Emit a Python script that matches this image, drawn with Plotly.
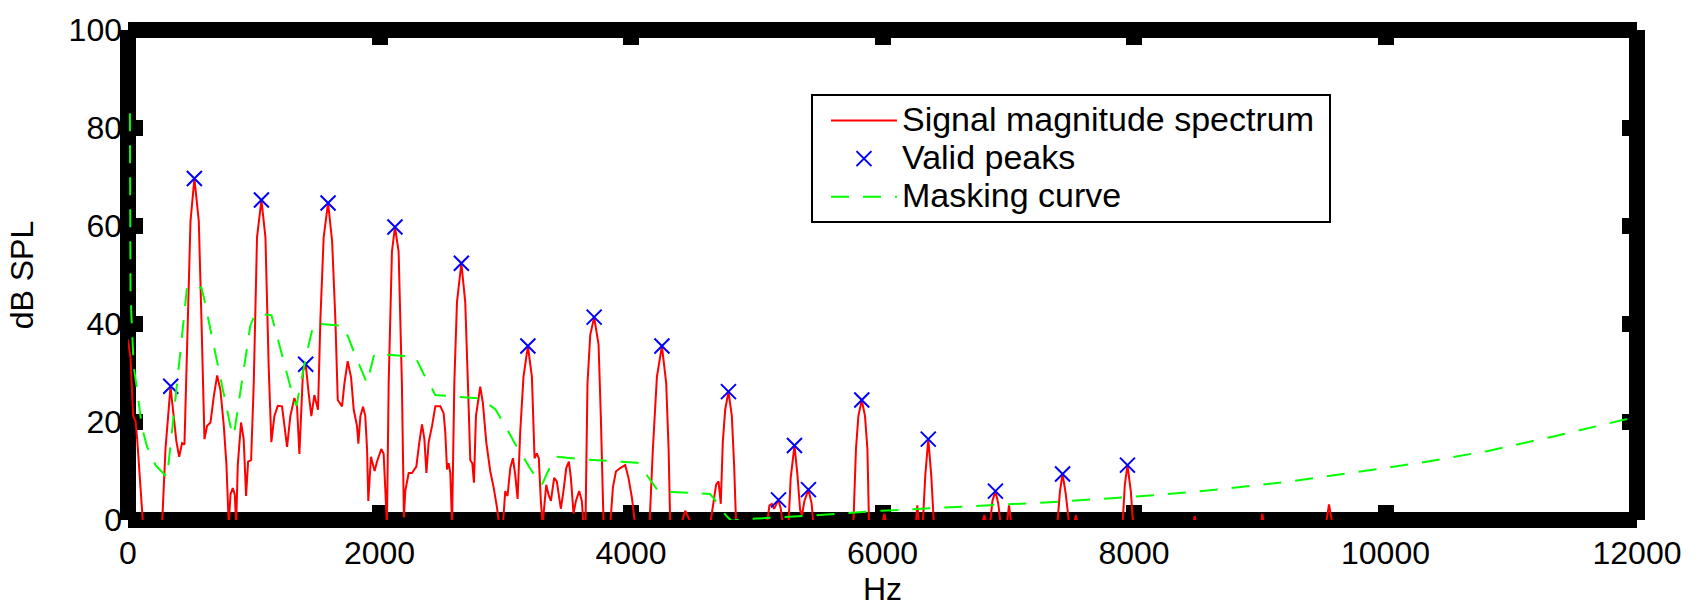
import plotly.graph_objects as go

# ---------------- data ----------------
spec_f = [0, 20, 41, 60, 73, 99, 120,
          271, 298, 338, 364, 385, 407, 430, 449, 470, 497, 528, 563, 584, 608, 629, 656, 682, 709, 735, 762,
          783, 801, 815, 833, 849, 860, 873, 899, 920, 939, 955, 979, 1000, 1026, 1061, 1093, 1119, 1140,
          1164, 1191, 1225, 1244, 1265, 1291, 1323, 1344, 1363, 1392, 1413, 1437, 1458, 1482, 1511, 1530,
          1556, 1591, 1623, 1649, 1668, 1702, 1721, 1747, 1774, 1795, 1821, 1832, 1848, 1869, 1887, 1901,
          1911, 1932, 1961, 1980, 2014, 2033, 2051, 2059, 2073, 2099, 2123, 2152, 2178, 2194, 2205, 2232,
          2258, 2293, 2317, 2338, 2357, 2373, 2391, 2418, 2444, 2471,
          2484, 2510, 2523, 2537, 2550, 2563, 2577, 2595, 2616, 2651, 2682, 2703, 2722, 2738, 2751, 2767,
          2801, 2822, 2849, 2881, 2908, 2934, 2952, 2981, 3000, 3018, 3040, 3061, 3079, 3098, 3119, 3145,
          3180, 3212, 3233, 3251, 3267, 3283, 3297, 3326, 3344, 3363, 3389, 3410, 3442, 3463, 3485, 3506,
          3522, 3543, 3562, 3588, 3609, 3622, 3638, 3654, 3676, 3707, 3742, 3760, 3782, 3835, 3856, 3880,
          3914, 3954, 3980, 4007, 4033, 4147, 4174, 4206, 4246, 4280, 4299, 4312, 4397, 4431, 4484, 4629,
          4656, 4677, 4696, 4714, 4730, 4749, 4775, 4802, 4820, 4836,
          5080, 5101, 5120, 5138, 5173, 5191, 5207, 5252, 5270, 5300, 5323, 5345, 5360, 5379, 5411, 5437,
          5450, 5768, 5789, 5808, 5835, 5861, 5880, 5893, 5999, 6015, 6030, 6264, 6277, 6291, 6320, 6340,
          6364, 6388, 6409, 6789, 6810, 6829, 6855, 6874, 6898, 6921, 6940, 6988, 7006, 7025,
          7390, 7411, 7432, 7458, 7485, 7522, 7538, 7554, 7909, 7927, 7948, 7975, 7993, 8470, 8483, 8496,
          9008, 9021, 9034, 9525, 9551, 9578, 12000]
spec_db = [36.8, 33.1, 21.2, 20.2, 16.5, 7.9, -1,
           -1, 14.5, 27.2, 21.2, 16.0, 12.9, 15.7, 15.4, 37.8, 61.0, 69.7, 61.0, 41.0, 16.5, 19.2, 19.9, 25.2, 29.5, 26.5, 19.2,
           11.2, -1, 5.2, 6.5, 5.2, -1, 11.2, 19.9, 16.5, 4.9, 11.9, 12.2, 27.9, 57.7, 65.3, 57.7, 31.1, 15.9,
           21.2, 23.3, 23.2, 19.2, 14.9, 21.2, 24.9, 23.2, 13.5, 30.5, 31.8, 25.8, 21.2, 25.5, 22.5, 41.0,
           57.7, 64.7, 57.0, 41.0, 24.5, 23.2, 27.9, 32.4, 29.1, 22.5, 19.2, 15.6, 21.2, 23.1, 21.2, 14.5,
           3.9, 12.9, 10.0, 11.9, 14.5, 13.5, 1.3, -1, 27.9, 54.8, 59.8, 54.8, 28.0, 0.5, 5.9, 9.6,
           9.6, 10.9, 15.9, 19.5, 16.5, 9.6, 15.9, 19.2, 23.2, 23.2,
           23.2, 21.8, 17.9, 10.3, 11.6, 9.6, -1, 27.9, 44.4, 52.4, 44.4, 27.9, 12.2, 11.6, 7.6, 21.2,
           27.2, 23.9, 15.9, 9.9, 6.6, 2.6, -1, -1, 5.9, 4.9, 10.6, 12.6, 9.3, 4.3, 17.9, 29.2,
           35.5, 29.2, 12.6, 13.6, 12.6, 3.9, -1, 7.2, 5.2, 3.9, 8.6, 7.9, 2.3, 5.9, 10.6, 11.9,
           8.6, 1.3, 3.9, 5.9, 3.9, -1, -1, 27.9, 37.8, 41.4, 35.8, 21.2, -1, -1, 6.6, 9.9,
           10.6, 11.2, 8.6, 4.6, -1, -1, 14.5, 29.2, 35.5, 27.9, 14.5, -1, -1, 1.9, -1, -1,
           3.9, 7.2, 7.9, 3.3, 15.9, 22.5, 26.2, 21.2, 11.2, -1,
           -1, 3.0, 3.3, 2.3, 4.1, 2.3, -1, -1, 8.6, 15.2, 9.3, 2.0, 1.0, 3.9, 6.2, 3.3,
           -1, -1, 14.5, 21.2, 24.5, 21.2, 14.5, -1, -1, 1.3, -1, -1, 3.0, -1, -1, 9.0,
           16.5, 9.0, -1, -1, 1.0, -1, -1, 3.9, 5.9, 3.3, -1, -1, 3.0, -1,
           -1, 5.8, 9.4, 5.2, -1, -1, 1.0, -1, -1, 7.2, 11.2, 5.8, -1, -1, 0.8, -1,
           -1, 1.3, -1, -1, 3.2, -1, -1]

peak_f = [340, 528, 1061, 1413, 1591, 2123, 2651, 3180, 3707, 4246, 4775, 5173, 5300, 5411, 5835, 6364, 6898, 7432, 7948]
peak_db = [27.3, 69.7, 65.3, 31.8, 64.7, 59.8, 52.4, 35.5, 41.4, 35.5, 26.2, 4.1, 15.2, 6.2, 24.5, 16.5, 5.9, 9.4, 11.2]

mask_f = [15, 20, 30, 46, 73, 110, 152, 219, 311, 364, 417, 470, 584, 603, 669, 735, 828, 841, 920, 973,
          1013, 1140, 1159, 1238, 1318, 1339, 1424, 1477, 1716, 1729, 1795, 1901, 1959, 2285, 2351, 2404,
          2444, 2801, 2921, 3000, 3079, 3159, 3193, 3273, 3292, 3352, 3405, 3610, 3874, 4052, 4105, 4192,
          4219, 4409, 4629, 4661, 4756, 4800, 4870, 5000, 5500, 6000, 6500, 7000, 7331, 7623, 8153, 8683,
          9217, 9747, 10285, 10815, 11345, 11887, 12000]
mask_db = [83, 46.4, 40, 31.2, 26.5, 19, 14.9, 11.2, 8.7, 21.2, 34.4, 47.7, 47.4, 45.4, 37.1, 29.2, 17.5, 17.2, 31.1, 39.7,
           42.1, 41.8, 40.1, 32.5, 24.6, 23.3, 34.4, 40.1, 39.6, 38.8, 34.4, 27.9, 33.9, 33.3, 29.8, 27.5,
           25.5, 24.8, 22.6, 19.2, 15.5, 12.2, 10.7, 7.6, 7.2, 10.6, 12.9, 12.4, 12.0, 11.7, 9.9, 6.6,
           5.8, 5.6, 5.3, 4.3, 0.9, -0.2, 0.1, 0.3, 1.0, 1.9, 2.6, 3.2, 3.6, 4.1, 5.05, 6.25,
           7.8, 9.7, 11.7, 14.1, 17.1, 20.4, 21.0]

x_ticks = [0, 2000, 4000, 6000, 8000, 10000, 12000]
y_ticks = [0, 20, 40, 60, 80, 100]

legend_names = ["Signal magnitude spectrum", "Valid peaks", "Masking curve"]

# ---------------- figure ----------------
FONT = "Liberation Sans, Arial, Helvetica, sans-serif"


def big(txt, extra=""):
    return '<span style="font-size:34px">' + txt + extra + '</span>'


fig = go.Figure()
fig.add_trace(go.Scatter(x=spec_f, y=spec_db, mode="lines", name=big(legend_names[0], "\u00a0"),
                         line=dict(color="#ff0000", width=2)))
fig.add_trace(go.Scatter(x=peak_f, y=peak_db, mode="markers", name=big(legend_names[1]),
                         marker=dict(symbol="x-thin", size=15, color="#0000ff",
                                     line=dict(color="#0000ff", width=2))))
fig.add_trace(go.Scatter(x=mask_f, y=mask_db, mode="lines", name=big(legend_names[2]),
                         line=dict(color="#00ff00", width=2, dash="18px,14px")))

# thick box frame (four butt-capped lines centred on the plot edges)
for x0, y0, x1, y1 in [(0, 1, 1, 1), (0, 0, 1, 0), (0, 0, 0, 1), (1, 0, 1, 1)]:
    fig.add_shape(type="line", xref="paper", yref="paper", x0=x0, y0=y0, x1=x1, y1=y1,
                  line=dict(color="black", width=16), layer="below")

axis_common = dict(ticks="inside", ticklen=15, tickwidth=16, tickcolor="black", mirror="ticks",
                   showgrid=False, zeroline=False, showline=False, layer="below traces",
                   tickfont=dict(family=FONT, size=32, color="black"))

fig.update_layout(
    width=1698, height=608,
    margin=dict(l=128, r=61, t=21, b=85),
    paper_bgcolor="white", plot_bgcolor="rgba(0,0,0,0)",
    font=dict(family=FONT, color="black"),
    xaxis=dict(range=[0, 12000], tickvals=x_ticks, ticktext=[str(v) for v in x_ticks],
               ticklabelstandoff=11,
               title=dict(text="Hz", font=dict(family=FONT, size=32), standoff=3), **axis_common),
    yaxis=dict(range=[0, 100], tickvals=y_ticks, ticktext=[str(v) for v in y_ticks],
               ticklabelstandoff=5,
               title=dict(text="dB SPL", font=dict(family=FONT, size=32), standoff=25), **axis_common),
    legend=dict(x=0.4526, y=0.8685, xanchor="left", yanchor="top",
                bordercolor="black", borderwidth=2, bgcolor="white",
                font=dict(family=FONT, size=27, color="black"),
                itemwidth=66, indentation=13, tracegroupgap=0),
    showlegend=True,
)

fig.write_html("out.html")
